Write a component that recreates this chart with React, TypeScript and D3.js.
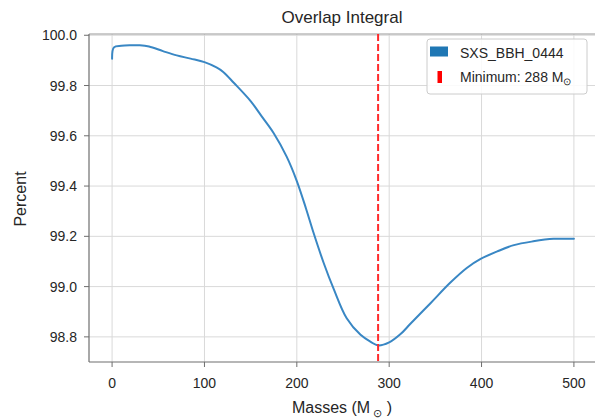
import React from "react";
import * as d3 from "d3";

const masses = [0, 2, 10, 20, 30, 40, 55, 70, 85, 100, 113, 120, 132, 150, 163, 175, 189, 200, 210, 218, 229, 240, 254, 269, 280, 288, 300, 312, 323, 345, 366, 384, 399, 417, 435, 456, 478, 500];
const overlap = [99.907, 99.952, 99.958, 99.96, 99.96, 99.955, 99.937, 99.92, 99.907, 99.893, 99.872, 99.855, 99.81, 99.738, 99.672, 99.61, 99.517, 99.42, 99.31, 99.215, 99.095, 98.99, 98.874, 98.808, 98.78, 98.766, 98.778, 98.81, 98.852, 98.935, 99.015, 99.074, 99.11, 99.14, 99.165, 99.18, 99.19, 99.19];
const minimumMass = 288;
const xTicks = [0, 100, 200, 300, 400, 500];
const yTicks = [98.8, 99.0, 99.2, 99.4, 99.6, 99.8, 100.0];
const seriesName = "SXS_BBH_0444";

const W = 595, H = 418;
const M = { left: 89, right: 597, top: 34, bottom: 362 };
const FONT = "'Liberation Sans', Arial, Helvetica, sans-serif";

export default function App() {
  const x = d3.scaleLinear().domain([-25, 525]).range([M.left, M.right]);
  const y = d3.scaleLinear().domain([98.70, 100.005]).range([M.bottom, M.top]);
  const pts: [number, number][] = masses.map((m, i) => [m, overlap[i]]);
  const line = d3.line<[number, number]>().x(d => x(d[0])).y(d => y(d[1])).curve(d3.curveCatmullRom.alpha(0.5));
  const cx = (M.left + M.right) / 2;
  const textCol = "#262626";
  return (
    <div style={{ position: "fixed", left: 0, top: 0 }}>
      <svg width={W} height={H} style={{ display: "block", background: "#fff" }} fontFamily={FONT}>
        <defs>
          <clipPath id="clip"><rect x={M.left} y={M.top} width={M.right - M.left} height={M.bottom - M.top} /></clipPath>
        </defs>
        {xTicks.map(t => (
          <line key={"gx" + t} x1={x(t)} x2={x(t)} y1={M.top} y2={M.bottom} stroke="#d9d9d9" strokeWidth={1} />
        ))}
        {yTicks.map(t => (
          <line key={"gy" + t} x1={M.left} x2={M.right} y1={y(t)} y2={y(t)} stroke="#d9d9d9" strokeWidth={1} />
        ))}
        <line x1={M.left} x2={M.right} y1={M.top} y2={M.top} stroke="#9a9a9a" strokeWidth={1.2} />
        <line x1={M.left} x2={M.left} y1={M.top} y2={M.bottom} stroke="#6e6e6e" strokeWidth={1.2} />
        <line x1={M.left} x2={M.right} y1={M.bottom} y2={M.bottom} stroke="#6e6e6e" strokeWidth={1.2} />
        <g clipPath="url(#clip)">
          <path d={line(pts) || ""} fill="none" stroke="#3987c4" strokeWidth={2} strokeLinejoin="round" strokeLinecap="round" />
          <line x1={x(minimumMass)} x2={x(minimumMass)} y1={M.top} y2={M.bottom} stroke="#ff2a2a" strokeWidth={2} strokeDasharray="7,3" />
        </g>
        {xTicks.map(t => (
          <g key={"tx" + t}>
            <line x1={x(t)} x2={x(t)} y1={M.bottom} y2={M.bottom + 5} stroke="#6e6e6e" strokeWidth={1} />
            <text x={x(t)} y={M.bottom + 26} textAnchor="middle" fontSize={14} fill={textCol}>{t}</text>
          </g>
        ))}
        {yTicks.map(t => (
          <g key={"ty" + t}>
            <line x1={M.left - 5} x2={M.left} y1={y(t)} y2={y(t)} stroke="#6e6e6e" strokeWidth={1} />
            <text x={M.left - 12} y={y(t) + 5} textAnchor="end" fontSize={14} fill={textCol}>{t.toFixed(1)}</text>
          </g>
        ))}
        <text x={cx - 1} y={23} textAnchor="middle" fontSize={17} fill={textCol}>Overlap Integral</text>
        <text x={cx - 1} y={413} textAnchor="middle" fontSize={16} fill={textCol}>
          Masses (M<tspan fontSize={11} dy={4}> ⊙</tspan><tspan dy={-4}> )</tspan>
        </text>
        <text transform={`translate(26, 199) rotate(-90)`} textAnchor="middle" fontSize={16} fill={textCol}>Percent</text>
        <g>
          <rect x={427} y={39} width={160} height={55} rx={3} fill="#fff" fillOpacity={0.85} stroke="#cccccc" strokeWidth={1} />
          <rect x={430} y={46.5} width={18} height={10} fill="#1f77b4" />
          <text x={460} y={57.5} fontSize={14} fill={textCol}>{seriesName}</text>
          <rect x={437.5} y={71} width={4.5} height={12} fill="#ff0000" />
          <text x={460} y={82} fontSize={14} fill={textCol}>
            Minimum: {minimumMass} M<tspan fontSize={10} dy={3}>⊙</tspan>
          </text>
        </g>
      </svg>
    </div>
  );
}
